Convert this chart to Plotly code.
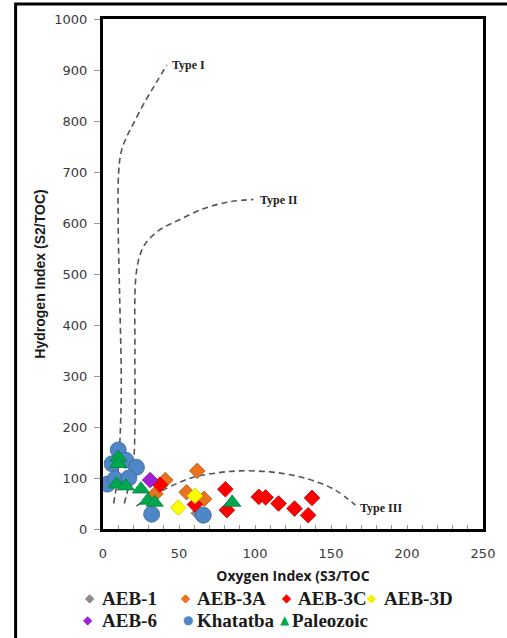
import plotly.graph_objects as go

# ---------------- data ----------------
aeb1_x = [63]
aeb1_y = [31]

aeb3a_x = [41, 34.5, 62, 55, 66.5]
aeb3a_y = [96, 69, 114, 72, 59]

aeb3c_x = [37.5, 60.5, 80.5, 81.5, 102.5, 107, 115.5, 126, 135, 137.5]
aeb3c_y = [87, 48, 78, 37, 63, 62, 50, 40, 27, 61]

aeb3d_x = [49.5, 60.5]
aeb3d_y = [42, 65]

aeb6_x = [31]
aeb6_y = [96]

khat_x = [10, 6, 15, 22, 3, 8, 17, 32, 66]
khat_y = [155, 128, 135, 121, 88, 98, 100, 29, 27]

paleo_x = [10, 10, 9, 15, 25, 29.5, 34, 85]
paleo_y = [140, 128, 88, 84, 78, 56, 52, 52]

type1_x = [7, 9.5, 11.5, 12, 11, 10, 10.3, 12, 15, 20, 28, 35, 42]
type1_y = [50, 100, 200, 300, 450, 600, 700, 740, 765, 795, 840, 875, 910]

type2_x = [14, 17, 20, 21, 21, 21.5, 24, 28, 37, 50, 67, 84, 99]
type2_y = [50, 85, 130, 200, 350, 490, 534, 560, 586, 606, 629, 642, 646]

type3_x = [22, 30, 40, 50, 60, 75, 90, 110, 127, 140, 153, 166]
type3_y = [45, 60, 77, 91, 102, 110, 114, 112, 104, 93, 76, 47]

x_ticks = [0, 50, 100, 150, 200, 250]
y_ticks = [0, 100, 200, 300, 400, 500, 600, 700, 800, 900, 1000]

curve_labels = ["Type I", "Type II", "Type III"]
curve_label_pos = [(44, 910), (102, 645), (168, 42)]

series = [
    ("AEB-1", aeb1_x, aeb1_y, "diamond", "#8a8a8a", "#6d6d6d", 12),
    ("AEB-3A", aeb3a_x, aeb3a_y, "diamond", "#e8731c", "#b95510", 12),
    ("AEB-3C", aeb3c_x, aeb3c_y, "diamond", "#ff0000", "#c00000", 12),
    ("AEB-3D", aeb3d_x, aeb3d_y, "diamond", "#ffff00", "#c8c800", 12),
    ("AEB-6", aeb6_x, aeb6_y, "diamond", "#a21fd1", "#7a139f", 12),
    ("Khatatba", khat_x, khat_y, "circle", "#4f86c6", "#3a6aa0", 16),
    ("Paleozoic", paleo_x, paleo_y, "triangle-up", "#00a94f", "#00803a", 15),
]

fig = go.Figure()

for cx, cy in [(type1_x, type1_y), (type2_x, type2_y), (type3_x, type3_y)]:
    fig.add_trace(go.Scatter(
        x=cx, y=cy, mode="lines", line_shape="spline",
        line=dict(color="#555555", width=1.6, dash="6px,4px"),
        showlegend=False, hoverinfo="skip"))

for name, xs, ys, sym, col, edge, size in series:
    fig.add_trace(go.Scatter(
        x=xs, y=ys, mode="markers", name=name,
        marker=dict(symbol=sym, size=size, color=col,
                    line=dict(color=edge, width=0.8)),
        showlegend=False))

for lab, (lx, ly) in zip(curve_labels, curve_label_pos):
    fig.add_annotation(x=lx, y=ly, xref="x", yref="y", text="<b>" + lab + "</b>",
                       showarrow=False, xanchor="left", yanchor="middle",
                       font=dict(family="Liberation Serif, Times New Roman, serif",
                                 size=12, color="#222222"))

# ---------------- legend (annotation based) ----------------
L, R, T, B = 103, 490, 19, 529
W, H = R - L, B - T


def px(xp):
    return (xp - L) / W


def py(yp):
    return (B - yp) / H


legend_items = [
    ("AEB-1", "◆", "#8a8a8a", 90, 100, 598),
    ("AEB-3A", "◆", "#e8731c", 188, 197, 598),
    ("AEB-3C", "◆", "#ff0000", 290, 300, 598),
    ("AEB-3D", "◆", "#f2f200", 377, 387, 598),
    ("AEB-6", "◆", "#a21fd1", 88, 100, 620),
    ("Khatatba", "●", "#4f86c6", 190, 197, 620),
    ("Paleozoic", "▲", "#00a94f", 288, 293, 620),
]
for name, sym, col, sx, tx, ty in legend_items:
    fig.add_annotation(x=px(sx), y=py(ty), xref="paper", yref="paper", text=sym,
                       showarrow=False, xanchor="center", yanchor="middle",
                       font=dict(family="DejaVu Sans", size=12, color=col))
    fig.add_annotation(x=px(tx), y=py(ty), xref="paper", yref="paper",
                       text="<b>" + name + "</b>",
                       showarrow=False, xanchor="left", yanchor="middle",
                       font=dict(family="Liberation Serif, Times New Roman, serif",
                                 size=19, color="#1a1a1a"))

# outer frame of the figure
fig.add_shape(type="rect", xref="paper", yref="paper",
              x0=px(14), x1=px(530), y0=py(680), y1=py(4),
              line=dict(color="black", width=3), layer="below")

fig.update_xaxes(
    range=[0, 250], tickvals=x_ticks, ticks="inside", ticklen=4, tickcolor="#999999",
    minor=dict(dtick=10, ticks="inside", ticklen=4, tickcolor="#999999"),
    showgrid=False, zeroline=False, showline=True, mirror=True,
    linecolor="black", linewidth=3,
    tickfont=dict(family="DejaVu Sans", size=13, color="#3a3a3a"),
    ticklabelstandoff=10,
    title=dict(text="<b>Oxygen Index (S3/TOC</b>", standoff=12,
               font=dict(family="Open Sans, Liberation Sans, Arial", size=14, color="#1a1a1a")))
fig.update_yaxes(
    range=[0, 1000], tickvals=y_ticks, ticks="outside", ticklen=6, tickcolor="#999999",
    showgrid=False, zeroline=False, showline=True, mirror=True,
    linecolor="black", linewidth=3,
    tickfont=dict(family="DejaVu Sans", size=13, color="#3a3a3a"),
    ticklabelstandoff=4,
    title=dict(text="<b>Hydrogen Index (S2/TOC)</b>", standoff=6,
               font=dict(family="Liberation Sans, Arial", size=14, color="#1a1a1a")))

fig.update_layout(
    width=507, height=638,
    margin=dict(l=L, r=507 - R, t=T, b=638 - B),
    paper_bgcolor="white", plot_bgcolor="white",
    showlegend=False,
)

fig.write_html("out.html", config={"displayModeBar": False},
               post_script="document.body.style.margin='0';document.body.style.overflow='hidden';")
